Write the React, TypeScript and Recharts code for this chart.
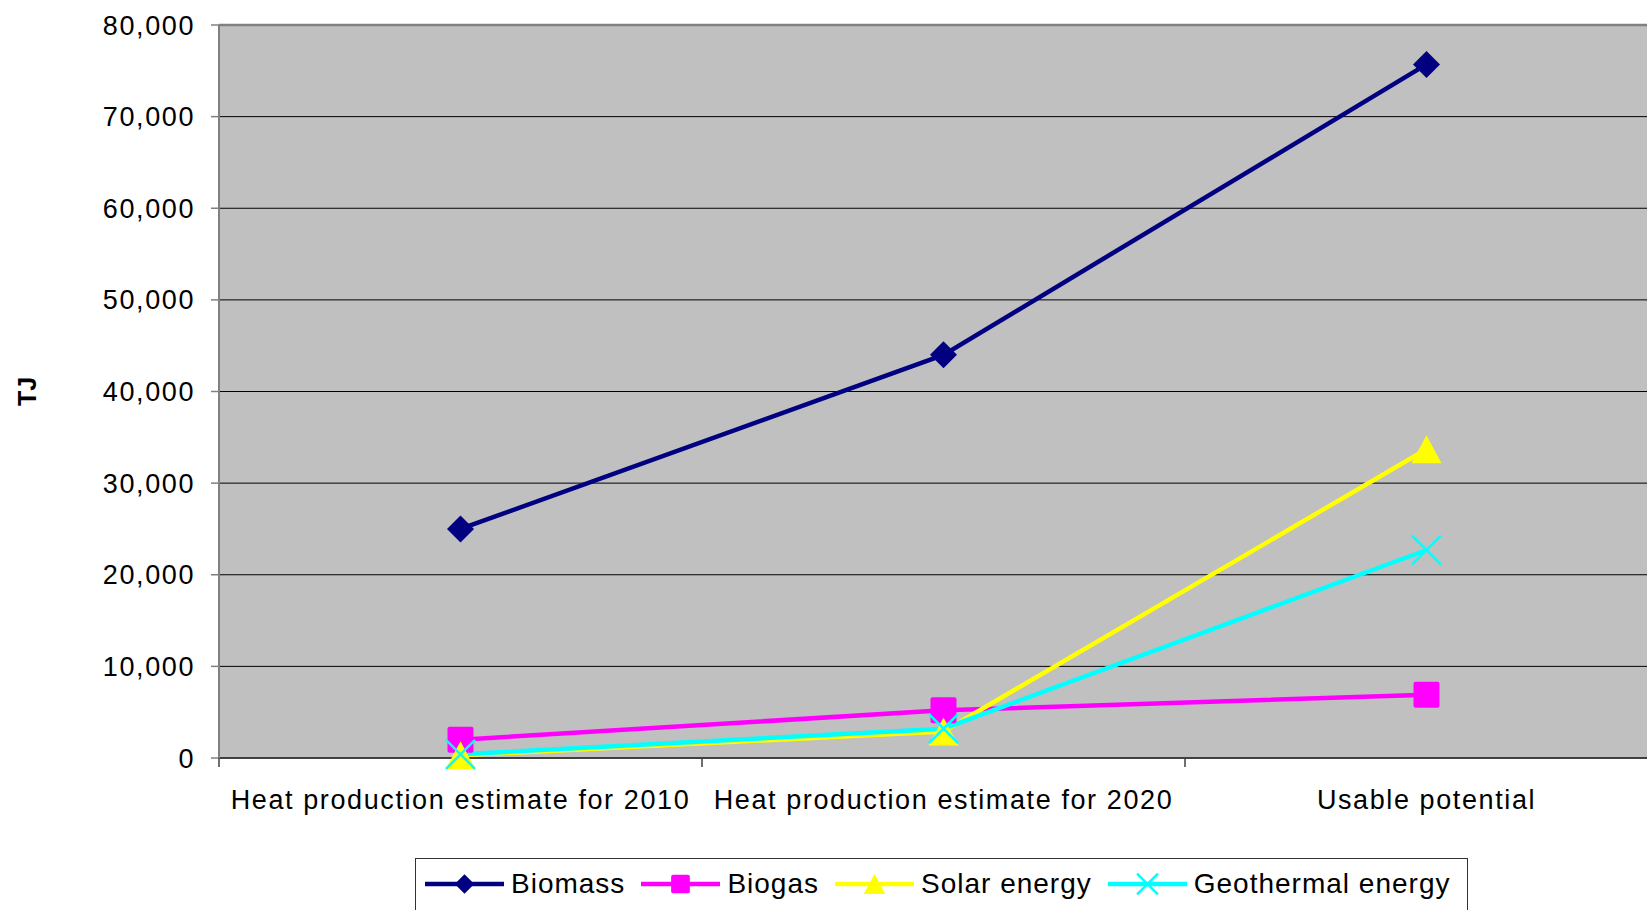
import React from 'react'
import { LineChart, Line, XAxis, YAxis, CartesianGrid, Legend, ReferenceLine } from 'recharts'

const categories = ['Heat production estimate for 2010', 'Heat production estimate for 2020', 'Usable potential']
const biomass = [25000, 44000, 75700]
const biogas = [2000, 5200, 6900]
const solar = [300, 2900, 33700]
const geothermal = [400, 3200, 22700]
const yTicks = [0, 10000, 20000, 30000, 40000, 50000, 60000, 70000, 80000]

const data = categories.map((name, i) => ({
  name,
  biomass: biomass[i],
  biogas: biogas[i],
  solar: solar[i],
  geothermal: geothermal[i]
}))

type Shape = 'diamond' | 'square' | 'triangle' | 'cross'

const series: { key: string; name: string; color: string; shape: Shape }[] = [
  { key: 'biomass', name: 'Biomass', color: '#000080', shape: 'diamond' },
  { key: 'biogas', name: 'Biogas', color: '#FF00FF', shape: 'square' },
  { key: 'solar', name: 'Solar energy', color: '#FFFF00', shape: 'triangle' },
  { key: 'geothermal', name: 'Geothermal energy', color: '#00FFFF', shape: 'cross' }
]

const FONT = '"Liberation Sans", Arial, sans-serif'
const CHART_W = 1680
const CHART_H = 910
const MARGIN = { top: 25, right: 12, bottom: 92, left: 9 }
const Y_AXIS_W = 210
const PLOT_W = CHART_W - MARGIN.left - MARGIN.right - Y_AXIS_W

const marker = (shape: Shape, cx: number, cy: number, color: string, s = 1, key?: string) => {
  if (shape === 'diamond') {
    const r = 13.5 * s
    return <path key={key} d={`M${cx},${cy - r}L${cx + r},${cy}L${cx},${cy + r}L${cx - r},${cy}Z`} fill={color} />
  }
  if (shape === 'square') {
    const r = 13 * s
    return <rect key={key} x={cx - r} y={cy - r} width={2 * r} height={2 * r} rx={2} fill={color} />
  }
  if (shape === 'triangle') {
    const w = 15 * s
    const h = 14 * s
    return <path key={key} d={`M${cx},${cy - h}L${cx + w},${cy + h}L${cx - w},${cy + h}Z`} fill={color} />
  }
  const r = 14.5 * s
  return (
    <path
      key={key}
      d={`M${cx - r},${cy - r}L${cx + r},${cy + r}M${cx - r},${cy + r}L${cx + r},${cy - r}`}
      stroke={color}
      strokeWidth={2.5}
      fill="none"
    />
  )
}

const XTick = (props: any) => {
  const { x, y, payload } = props
  const half = PLOT_W / categories.length / 2
  return (
    <g>
      <line x1={x - half} y1={y} x2={x - half} y2={y + 9} stroke="#404040" strokeWidth={1.5} />
      <text x={x} y={y + 51} textAnchor="middle" fill="#000" style={{ fontFamily: FONT, fontSize: 27, letterSpacing: 1.6 }}>
        {payload.value}
      </text>
    </g>
  )
}

const LegendBox = () => (
  <div
    style={{
      width: 1053,
      height: 80,
      boxSizing: 'border-box',
      border: '1.5px solid #333',
      background: '#fff',
      display: 'flex',
      alignItems: 'flex-start',
      paddingLeft: 9,
      fontFamily: FONT
    }}
  >
    {series.map((s) => (
      <div key={s.key} style={{ display: 'flex', alignItems: 'center', height: 50, marginRight: 16 }}>
        <svg width={79} height={30} style={{ display: 'block' }}>
          <line x1={0} y1={15} x2={79} y2={15} stroke={s.color} strokeWidth={4.5} />
          {marker(s.shape, 39.5, 15, s.color, 0.72)}
        </svg>
        <span style={{ marginLeft: 7, fontSize: 28, letterSpacing: 1.0, color: '#000', whiteSpace: 'nowrap' }}>{s.name}</span>
      </div>
    ))}
  </div>
)

const YLabel = (props: any) => {
  const vb = props.viewBox || {}
  const cy = (vb.y || 0) + (vb.height || 0) / 2
  return (
    <text
      x={27}
      y={cy}
      transform={`rotate(-90, 27, ${cy})`}
      textAnchor="middle"
      dominantBaseline="central"
      style={{ fontFamily: FONT, fontSize: 25, fontWeight: 700 }}
      fill="#000"
    >
      TJ
    </text>
  )
}

export default function App() {
  return (
    <div style={{ position: 'fixed', left: 0, top: 0, width: 1647, height: 910, overflow: 'hidden', background: '#fff' }}>
      <LineChart width={CHART_W} height={CHART_H} data={data} margin={MARGIN}>
        <CartesianGrid vertical={false} fill="#C0C0C0" stroke="#000" strokeWidth={1} />
        <ReferenceLine y={80000} stroke="#808080" strokeWidth={2.5} />
        <XAxis
          dataKey="name"
          scale="band"
          height={60}
          tickSize={0}
          tickMargin={0}
          tickLine={false}
          axisLine={{ stroke: '#404040', strokeWidth: 2 }}
          tick={<XTick />}
          interval={0}
        />
        <YAxis
          width={Y_AXIS_W}
          domain={[0, 80000]}
          ticks={yTicks}
          interval={0}
          tickSize={8}
          tickMargin={16}
          tickLine={{ stroke: '#808080', strokeWidth: 1.5 }}
          axisLine={{ stroke: '#808080', strokeWidth: 2 }}
          tickFormatter={(v: number) => v.toLocaleString('en-US')}
          tick={{ fill: '#000', fontSize: 27, fontFamily: FONT, letterSpacing: 1.6 }}
          label={{ content: <YLabel /> }}
        />
        <Legend
          layout="horizontal"
          verticalAlign="middle"
          align="center"
          wrapperStyle={{ left: 415, top: 858, width: 1053 }}
          content={() => <LegendBox />}
        />
        {series.map((s) => (
          <Line
            key={s.key}
            dataKey={s.key}
            name={s.name}
            stroke={s.color}
            strokeWidth={4.5}
            isAnimationActive={false}
            dot={(p: any) => marker(s.shape, p.cx, p.cy, s.color, 1, `${s.key}-${p.index}`)}
            activeDot={false}
          />
        ))}
      </LineChart>
    </div>
  )
}
